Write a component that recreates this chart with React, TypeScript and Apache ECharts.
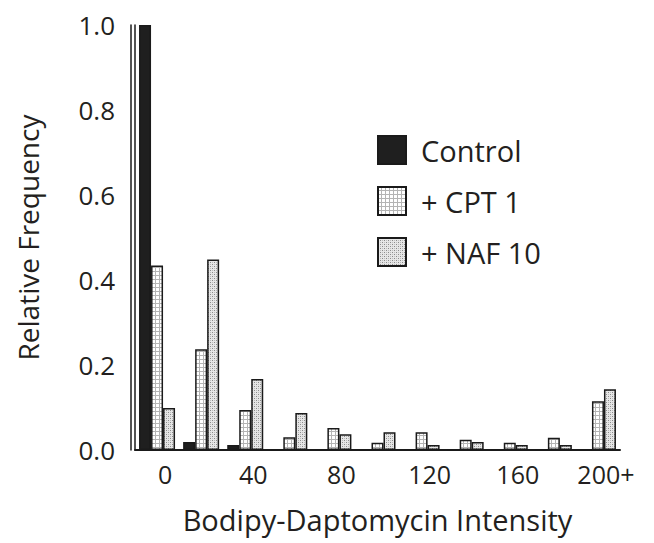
import React, { useEffect, useRef } from "react";
import * as echarts from "echarts";

const categories = ["0", "20", "40", "60", "80", "100", "120", "140", "160", "180", "200+"];
const controlValues = [1.0, 0.019, 0.012, 0, 0, 0, 0, 0, 0, 0, 0];
const cptValues = [0.434, 0.237, 0.094, 0.03, 0.052, 0.017, 0.042, 0.024, 0.017, 0.029, 0.115];
const nafValues = [0.099, 0.448, 0.167, 0.087, 0.037, 0.042, 0.012, 0.019, 0.012, 0.012, 0.143];
const yTicks = [0, 0.2, 0.4, 0.6, 0.8, 1.0];

const FONT = '"Open Sans", Lato, sans-serif';
const INK = "#231f20";

function gridPattern(): HTMLCanvasElement {
  const c = document.createElement("canvas");
  c.width = 4;
  c.height = 4;
  const ctx = c.getContext("2d")!;
  ctx.fillStyle = "#ffffff";
  ctx.fillRect(0, 0, 4, 4);
  ctx.fillStyle = "#b4b4b4";
  ctx.fillRect(0, 3, 4, 1);
  ctx.fillRect(3, 0, 1, 4);
  return c;
}

function dotPattern(): HTMLCanvasElement {
  const c = document.createElement("canvas");
  c.width = 4;
  c.height = 4;
  const ctx = c.getContext("2d")!;
  ctx.fillStyle = "#e6e6e6";
  ctx.fillRect(0, 0, 4, 4);
  ctx.fillStyle = "#8a8a8a";
  ctx.fillRect(0, 0, 1, 1);
  ctx.fillRect(2, 2, 1, 1);
  ctx.fillStyle = "#bcbcbc";
  ctx.fillRect(2, 0, 1, 1);
  ctx.fillRect(0, 2, 1, 1);
  return c;
}

export default function App() {
  const ref = useRef<HTMLDivElement>(null);

  useEffect(() => {
    if (!ref.current) return;
    const chart = echarts.init(ref.current, undefined, { renderer: "svg" });

    const barStyle = (fill: any) => ({
      color: fill,
      borderColor: "#1a1a1a",
      borderWidth: 1.5,
    });

    chart.setOption({
      animation: false,
      backgroundColor: "#ffffff",
      textStyle: { fontFamily: FONT, color: INK },
      grid: { left: 135, right: 34, top: 25, bottom: 93, containLabel: false },
      legend: {
        orient: "vertical",
        left: 377,
        top: 135,
        padding: 0,
        itemWidth: 28,
        itemHeight: 28,
        itemGap: 21,
        icon: "rect",
        selectedMode: false,
        textStyle: { fontFamily: FONT, fontSize: 29, color: INK, padding: [0, 0, 0, 10] },
        data: ["Control", "+ CPT 1", "+ NAF 10"],
      },
      xAxis: {
        type: "category",
        data: categories,
        axisLine: { show: true, lineStyle: { color: "#1a1a1a", width: 2 } },
        axisTick: { show: false },
        axisLabel: {
          interval: 1,
          fontFamily: FONT,
          fontSize: 25,
          color: INK,
          margin: 11,
          padding: [0, 0, 0, 16],
        },
        name: "Bodipy-Daptomycin Intensity",
        nameLocation: "middle",
        nameGap: 55,
        nameTextStyle: { fontFamily: FONT, fontSize: 29, color: INK },
      },
      yAxis: [
        {
          type: "value",
          min: 0,
          max: 1,
          interval: 0.2,
          axisLine: { show: true, lineStyle: { color: "#1a1a1a", width: 1.5 } },
          axisTick: { show: false },
          splitLine: { show: false },
          axisLabel: {
            fontFamily: FONT,
            fontSize: 26,
            color: INK,
            margin: 20,
            formatter: (v: number) => (yTicks.includes(Math.round(v * 10) / 10) ? v.toFixed(1) : ""),
          },
          name: "Relative Frequency",
          nameLocation: "middle",
          nameRotate: 90,
          nameGap: 93,
          nameTextStyle: { fontFamily: FONT, fontSize: 28, color: INK },
        },
        {
          type: "value",
          position: "left",
          offset: 4,
          min: 0,
          max: 1,
          axisLine: { show: true, lineStyle: { color: "#1a1a1a", width: 1.5 } },
          axisTick: { show: false },
          splitLine: { show: false },
          axisLabel: { show: false },
        },
      ],
      series: [
        {
          name: "Control",
          type: "bar",
          data: controlValues,
          barWidth: 12,
          barGap: "0%",
          itemStyle: barStyle("#1f1f1f"),
        },
        {
          name: "+ CPT 1",
          type: "bar",
          data: cptValues,
          barWidth: 12,
          barGap: "0%",
          itemStyle: barStyle({ image: gridPattern(), repeat: "repeat" }),
        },
        {
          name: "+ NAF 10",
          type: "bar",
          data: nafValues,
          barWidth: 12,
          barGap: "0%",
          itemStyle: barStyle({ image: dotPattern(), repeat: "repeat" }),
        },
      ],
    });

    return () => chart.dispose();
  }, []);

  return (
    <div
      ref={ref}
      style={{ position: "fixed", left: 0, top: 0, width: 654, height: 543 }}
    />
  );
}
